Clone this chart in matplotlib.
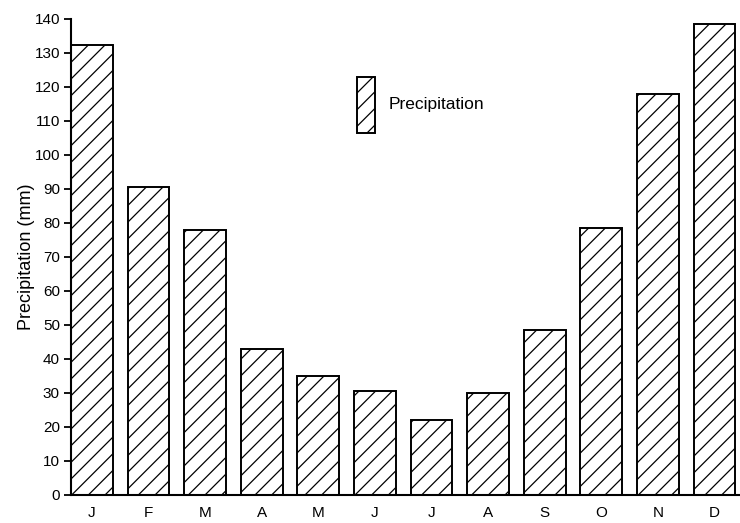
import matplotlib
matplotlib.use("Agg")
import matplotlib.pyplot as plt

months = ["J", "F", "M", "A", "M", "J", "J", "A", "S", "O", "N", "D"]
precip = [132.5, 90.5, 78, 43, 35, 30.5, 22, 30, 48.5, 78.5, 118, 138.5]
yticks = list(range(0, 141, 10))

plt.rcParams["font.family"] = ["Liberation Sans", "DejaVu Sans"]
plt.rcParams["hatch.linewidth"] = 0.9

fig = plt.figure(figsize=(7.4, 5.23), dpi=100)
ax = fig.add_axes([71 / 740, 28 / 523, 669 / 740, 476 / 523])

x = list(range(len(months)))
ax.bar(x, precip, width=0.74, color="white", edgecolor="black",
       linewidth=1.4, hatch="//", label="Precipitation")

ax.set_xlim(-0.37, 11.45)
ax.set_ylim(0, 140)
ax.set_yticks(yticks)
ax.set_xticks(x)
ax.set_xticklabels(months)
ax.tick_params(axis="x", length=0, pad=8, labelsize=11)
ax.tick_params(axis="y", length=5, width=1.3, pad=3, labelsize=11)
for s in ["top", "right"]:
    ax.spines[s].set_visible(False)
for s in ["left", "bottom"]:
    ax.spines[s].set_linewidth(1.5)

ax.set_ylabel("Precipitation (mm)", fontsize=13)
ax.yaxis.set_label_coords(-0.054, 0.5)

ax.legend(loc="center left", bbox_to_anchor=(357 / 740, 1 - 105 / 523),
          bbox_transform=fig.transFigure, frameon=False, fontsize=12.5,
          handlelength=1.05, handleheight=4.5, handletextpad=0.8,
          borderpad=0, borderaxespad=0)

fig.savefig("out.png", dpi=100)
